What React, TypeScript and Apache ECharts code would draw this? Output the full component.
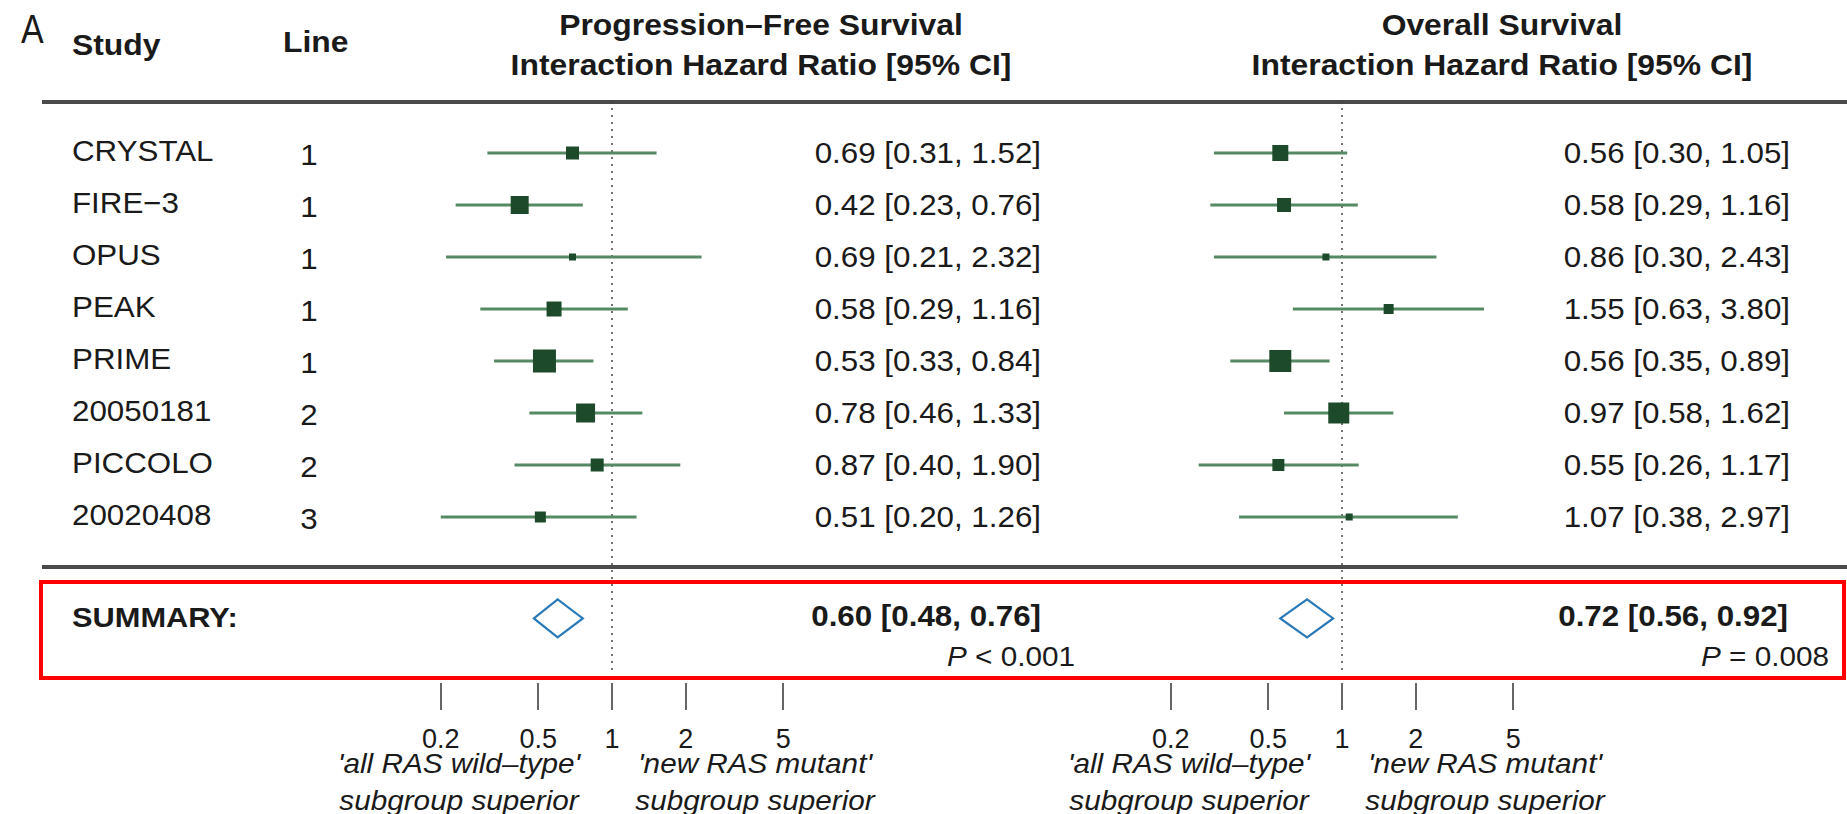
import React, { useEffect, useRef } from 'react';
import * as echarts from 'echarts';

// ---------- data ----------
const studies = ['CRYSTAL', 'FIRE\u22123', 'OPUS', 'PEAK', 'PRIME', '20050181', 'PICCOLO', '20020408'];
const therapyLine = [1, 1, 1, 1, 1, 2, 2, 3];

const pfsHR = [0.69, 0.42, 0.69, 0.58, 0.53, 0.78, 0.87, 0.51];
const pfsLo = [0.31, 0.23, 0.21, 0.29, 0.33, 0.46, 0.40, 0.20];
const pfsHi = [1.52, 0.76, 2.32, 1.16, 0.84, 1.33, 1.90, 1.26];
const pfsWeight = [13, 18, 7, 15, 23, 19, 13, 11];

const osHR = [0.56, 0.58, 0.86, 1.55, 0.56, 0.97, 0.55, 1.07];
const osLo = [0.30, 0.29, 0.30, 0.63, 0.35, 0.58, 0.26, 0.38];
const osHi = [1.05, 1.16, 2.43, 3.80, 0.89, 1.62, 1.17, 2.97];
const osWeight = [16, 14, 7, 10, 22, 21, 12, 7];

const pfsSummary = [0.60, 0.48, 0.76];
const osSummary = [0.72, 0.56, 0.92];
const pfsP = '< 0.001';
const osP = '= 0.008';

const tickValues = [0.2, 0.5, 1, 2, 5];
const tickLabels = ['0.2', '0.5', '1', '2', '5'];

const panelTitles = [
  ['Progression\u2013Free Survival', 'Interaction Hazard Ratio [95% CI]'],
  ['Overall Survival', 'Interaction Hazard Ratio [95% CI]'],
];
const favourLabels = [
  ["'all RAS wild\u2013type'", 'subgroup superior'],
  ["'new RAS mutant'", 'subgroup superior'],
];

// ---------- layout / style ----------
const W = 1847;
const H = 814;
const ROW0 = 153;
const ROW_H = 52;
const Y_MIN = -1;
const Y_MAX = 10;
const SUMMARY_ROW = 8.95;
const DECADE = 245;
const ONE_X = [612, 1342];
const TITLE_X = [761, 1502];
const VALUE_RIGHT = [1041, 1790];
const P_RIGHT = [1075, 1829];
const FAV_X = [[459, 755], [1189, 1485]];

const TXT = '#1a1a1a';
const WHISKER = '#568a64';
const BOX = '#1d4a2a';
const DIAMOND = '#2a7ab9';
const FONT = '"Liberation Sans", Arial, Helvetica, sans-serif';
const SX = 1.08;
const F_ROW = 29;
const F_HEAD = 29.5;
const F_FAV = 27.5;

const rowY = (r: number) => ROW0 + r * ROW_H;
const fmt = (v: number) => v.toFixed(2);
const ci = (e: number, l: number, h: number) => `${fmt(e)} [${fmt(l)}, ${fmt(h)}]`;

function txt(text: string, x: number, y: number, opts: any = {}) {
  return {
    type: 'text',
    x,
    y,
    scaleX: opts.scaleX ?? SX,
    silent: true,
    style: {
      text,
      fill: TXT,
      fontFamily: FONT,
      fontSize: opts.fontSize ?? F_ROW,
      fontWeight: opts.bold ? 'bold' : 'normal',
      fontStyle: opts.italic ? 'italic' : 'normal',
      align: opts.align ?? 'left',
      verticalAlign: 'middle',
      rich: opts.rich,
    },
  };
}

export default function App() {
  const ref = useRef<HTMLDivElement>(null);

  useEffect(() => {
    document.body.style.margin = '0';
    const chart = echarts.init(ref.current!, null, { renderer: 'svg' });

    const log = Math.log10;
    const panels = [
      { hr: pfsHR, lo: pfsLo, hi: pfsHi, w: pfsWeight, sum: pfsSummary, p: pfsP },
      { hr: osHR, lo: osLo, hi: osHi, w: osWeight, sum: osSummary, p: osP },
    ];

    const grids = ONE_X.map((x1) => ({
      left: x1 - DECADE,
      width: 2 * DECADE,
      top: rowY(Y_MIN),
      height: (Y_MAX - Y_MIN) * ROW_H,
      outerBoundsMode: 'none',
    }));

    const xAxes = ONE_X.map((_, gi) => ({
      type: 'value',
      gridIndex: gi,
      min: -1,
      max: 1,
      position: 'bottom',
      offset: 10,
      splitLine: { show: false },
      axisLine: { show: false, onZero: false },
      axisTick: {
        show: true,
        customValues: tickValues.map((t) => log(t)),
        length: 27,
        lineStyle: { color: '#333', width: 1.5 },
      },
      axisLabel: {
        show: true,
        customValues: tickValues.map((t) => log(t)),
        margin: 42,
        color: TXT,
        fontSize: 27,
        fontFamily: FONT,
        formatter: (v: number) => {
          const i = tickValues.findIndex((t) => Math.abs(log(t) - v) < 1e-6);
          return i >= 0 ? tickLabels[i] : '';
        },
      },
    }));

    const yAxes = ONE_X.map((_, gi) => ({
      type: 'value',
      gridIndex: gi,
      inverse: true,
      min: Y_MIN,
      max: Y_MAX,
      show: false,
      splitLine: { show: false },
    }));

    const series: any[] = [];
    panels.forEach((pn, gi) => {
      series.push({
        type: 'line',
        xAxisIndex: gi,
        yAxisIndex: gi,
        data: [[0, Y_MIN], [0, Y_MAX]],
        symbol: 'none',
        silent: true,
        lineStyle: { color: '#444', width: 1.5, type: [2, 5] },
        z: 1,
      });
      series.push({
        type: 'custom',
        xAxisIndex: gi,
        yAxisIndex: gi,
        z: 3,
        silent: true,
        encode: { x: [0, 1, 2], y: 3 },
        data: pn.hr.map((v, i) => [log(pn.lo[i]), log(v), log(pn.hi[i]), i, pn.w[i]]),
        renderItem: (params: any, api: any) => {
          const y = api.value(3);
          const a = api.coord([api.value(0), y]);
          const c = api.coord([api.value(1), y]);
          const b = api.coord([api.value(2), y]);
          const s = api.value(4);
          return {
            type: 'group',
            children: [
              { type: 'line', shape: { x1: a[0], y1: a[1], x2: b[0], y2: b[1] }, style: { stroke: WHISKER, lineWidth: 3 } },
              { type: 'rect', shape: { x: c[0] - s / 2, y: c[1] - s / 2, width: s, height: s }, style: { fill: BOX } },
            ],
          };
        },
      });
      series.push({
        type: 'custom',
        xAxisIndex: gi,
        yAxisIndex: gi,
        z: 3,
        silent: true,
        encode: { x: [0, 1, 2], y: 3 },
        data: [[log(pn.sum[1]), log(pn.sum[0]), log(pn.sum[2]), SUMMARY_ROW]],
        renderItem: (params: any, api: any) => {
          const y = api.value(3);
          const a = api.coord([api.value(0), y]);
          const c = api.coord([api.value(1), y]);
          const b = api.coord([api.value(2), y]);
          return {
            type: 'polygon',
            shape: { points: [a, [c[0], c[1] - 19], b, [c[0], c[1] + 19]] },
            style: { stroke: DIAMOND, fill: '#fff', lineWidth: 2.2 },
          };
        },
      });
    });

    const graphic: any[] = [];
    // panel letter and headers
    graphic.push(txt('A', 21, 29, { fontSize: 40, scaleX: 0.85 }));
    graphic.push(txt('Study', 72, 45, { bold: true, fontSize: F_HEAD }));
    graphic.push(txt('Line', 283, 42, { bold: true, fontSize: F_HEAD }));
    panelTitles.forEach((t, gi) => {
      graphic.push(txt(t[0], TITLE_X[gi], 25, { bold: true, fontSize: F_HEAD, align: 'center' }));
      graphic.push(txt(t[1], TITLE_X[gi], 65, { bold: true, fontSize: F_HEAD, align: 'center' }));
    });
    // horizontal rules
    [102, 567].forEach((y) => {
      graphic.push({ type: 'line', silent: true, shape: { x1: 42, y1: y, x2: W, y2: y }, style: { stroke: '#4a4a4a', lineWidth: 4 } });
    });
    // rows
    studies.forEach((s, i) => {
      graphic.push(txt(s, 72, rowY(i) - 2));
      graphic.push(txt(String(therapyLine[i]), 309, rowY(i) + 2, { align: 'center' }));
    });
    panels.forEach((pn, gi) => {
      pn.hr.forEach((v, i) => {
        graphic.push(txt(ci(v, pn.lo[i], pn.hi[i]), VALUE_RIGHT[gi], rowY(i), { align: 'right' }));
      });
      graphic.push(txt(ci(pn.sum[0], pn.sum[1], pn.sum[2]), VALUE_RIGHT[gi] - (gi === 1 ? 2 : 0), 616, { align: 'right', bold: true }));
      graphic.push(
        txt(`{i|P} ${pn.p}`, P_RIGHT[gi], 656, {
          align: 'right',
          fontSize: 27.5,
          rich: { i: { fontStyle: 'italic', fontSize: 27.5, fontFamily: FONT, fill: TXT } },
        })
      );
      FAV_X[gi].forEach((cx, k) => {
        graphic.push(txt(favourLabels[k][0], cx, 763, { italic: true, fontSize: F_FAV, align: 'center' }));
        graphic.push(txt(favourLabels[k][1], cx, 800, { italic: true, fontSize: F_FAV, align: 'center' }));
      });
    });
    graphic.push(txt('SUMMARY:', 72, 617, { bold: true, fontSize: 28.5 }));
    // highlight box
    graphic.push({
      type: 'rect',
      silent: true,
      shape: { x: 41, y: 582, width: 1803, height: 96 },
      style: { stroke: '#ff0000', fill: 'none', lineWidth: 4 },
      z: 10,
    });

    chart.setOption({
      animation: false,
      backgroundColor: '#fff',
      grid: grids,
      xAxis: xAxes,
      yAxis: yAxes,
      series,
      graphic,
    });

    return () => chart.dispose();
  }, []);

  return <div ref={ref} style={{ width: W, height: H }} />;
}
